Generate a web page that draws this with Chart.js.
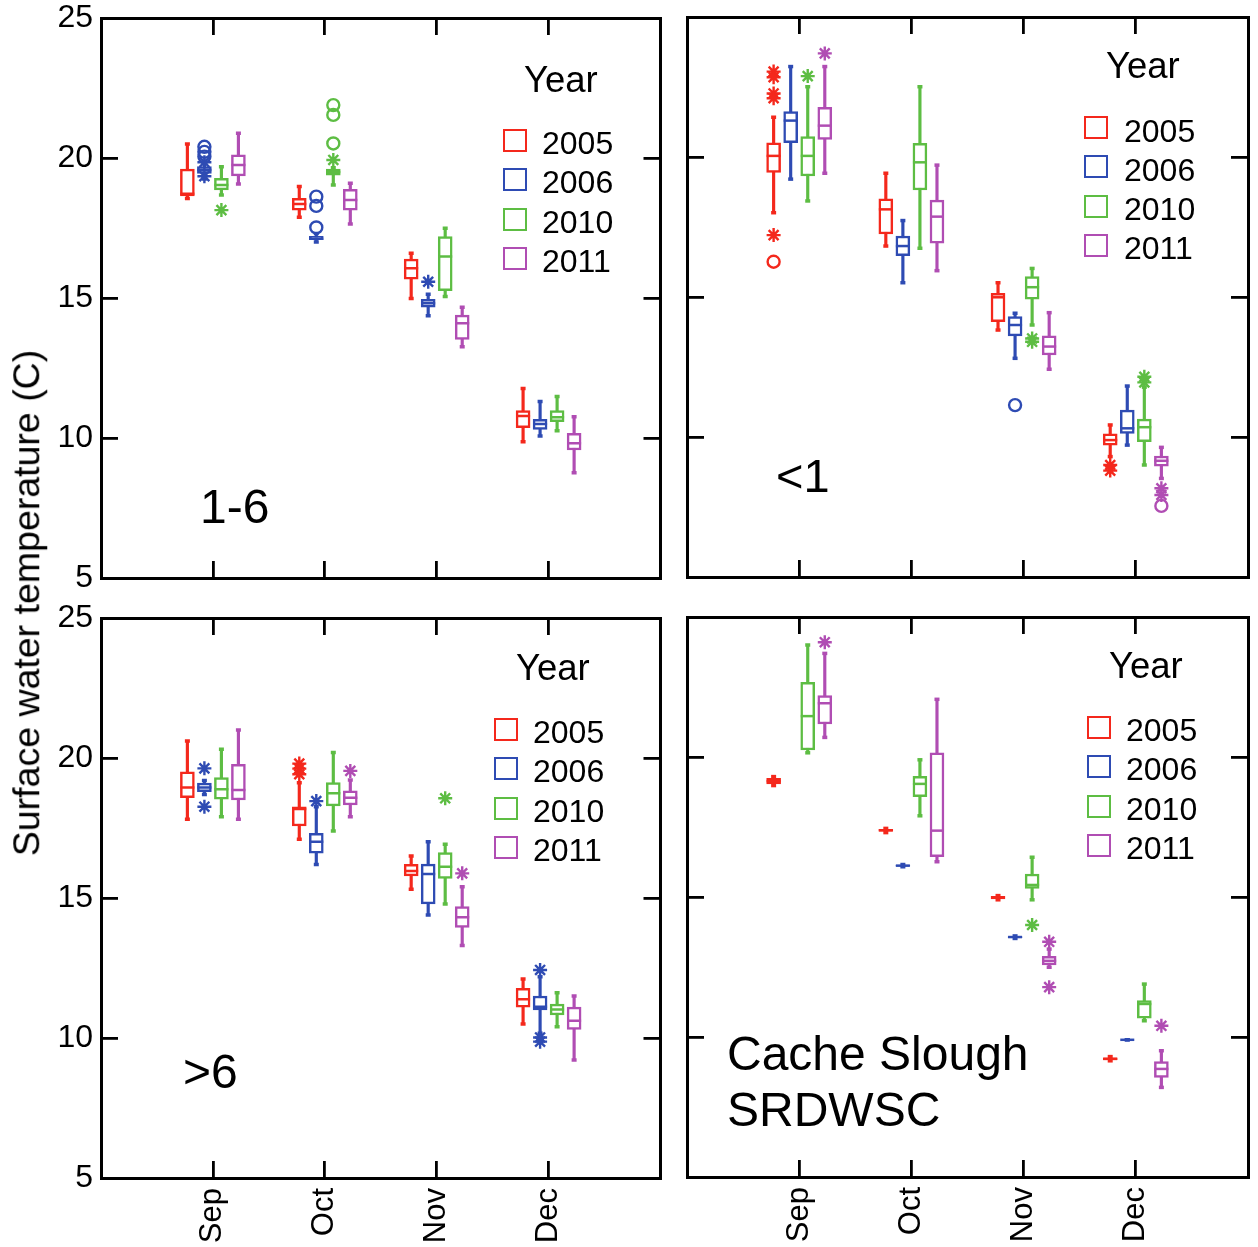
<!DOCTYPE html>
<html>
<head>
<meta charset="utf-8">
<title>Surface water temperature</title>
<script src="https://cdn.jsdelivr.net/npm/chart.js@4.4.1/dist/chart.umd.min.js"></script>
<style>
  html, body { margin: 0; padding: 0; background: #fff; }
  #page { position: relative; width: 1258px; height: 1247px; overflow: hidden; font-family: 'Liberation Sans', Arial, sans-serif; }
  canvas { position: absolute; }
  .txt { position: absolute; line-height: 1; white-space: nowrap; color: #000; }
  .key { position: absolute; width: 24px; height: 23px; box-sizing: border-box; border: 2.5px solid; }
</style>
</head>
<body>
<div id="page">
  <canvas id="p16" width="670" height="600" style="left:0;top:0"></canvas>
  <canvas id="p1" width="588" height="600" style="left:670px;top:0"></canvas>
  <canvas id="p6" width="670" height="647" style="left:0;top:600px"></canvas>
  <canvas id="pcs" width="588" height="647" style="left:670px;top:600px"></canvas>
</div>
<script>
const months = ['Sep', 'Oct', 'Nov', 'Dec'];
const years = ['2005', '2006', '2010', '2011'];
const yearColors = ['#f4281c', '#2e4bb3', '#5dbd43', '#b04db3'];
const yearOffsets = [-0.228, -0.076, 0.076, 0.228];

// boxes: [min, q1, median, q3, max] for Sep, Oct, Nov, Dec
// outliers: [month, value], month 1 = Sep ... 4 = Dec

// panel 1-6
const box16_2005 = [[18.55, 18.65, 18.72, 19.6, 20.5], [17.88, 18.14, 18.36, 18.56, 18.98], [14.98, 15.67, 16.06, 16.39, 16.6], [9.87, 10.37, 10.79, 10.98, 11.77]];
const box16_2006 = [[19.25, 19.45, 19.57, 19.69, 19.8], [17.0, 17.08, 17.12, 17.2, 17.3], [14.37, 14.67, 14.81, 14.95, 15.13], [10.07, 10.31, 10.5, 10.67, 11.3]];
const box16_2010 = [[18.68, 18.86, 19.04, 19.27, 19.69], [19.04, 19.39, 19.5, 19.6, 19.65], [15.05, 15.26, 16.48, 17.19, 17.49], [10.26, 10.58, 10.74, 10.98, 11.48]];
const box16_2011 = [[19.07, 19.36, 19.75, 20.11, 20.88], [17.64, 18.14, 18.5, 18.88, 19.1], [13.26, 13.52, 14.1, 14.39, 14.67], [8.76, 9.57, 9.81, 10.17, 10.76]];
const star16_2005 = [];
const star16_2006 = [[1, 19.85], [1, 19.35], [3, 15.58]];
const star16_2010 = [[1, 18.14], [2, 19.93]];
const star16_2011 = [];
const ring16_2005 = [];
const ring16_2006 = [[1, 20.4], [1, 20.22], [1, 20.05], [2, 18.62], [2, 18.29], [2, 17.52]];
const ring16_2010 = [[2, 21.89], [2, 21.54], [2, 20.52]];
const ring16_2011 = [];

// panel <1
const box1_2005 = [[18.01, 19.45, 20.04, 20.51, 21.42], [16.82, 17.25, 18.13, 18.51, 19.42], [13.82, 14.12, 14.99, 15.13, 15.51], [9.3, 9.71, 9.89, 10.11, 10.43]];
const box1_2006 = [[19.21, 20.51, 21.3, 21.62, 23.23], [15.51, 16.48, 16.82, 17.18, 17.73], [12.81, 13.61, 14.0, 14.3, 14.42], [9.71, 10.13, 10.31, 10.96, 11.82]];
const box1_2010 = [[18.43, 19.32, 20.04, 20.73, 22.51], [16.74, 18.82, 19.81, 20.49, 22.51], [14.0, 14.92, 15.35, 15.73, 16.02], [9.0, 9.83, 10.35, 10.64, 11.78]];
const box1_2011 = [[19.42, 20.63, 21.12, 21.77, 23.23], [15.94, 16.92, 17.87, 18.46, 19.71], [12.42, 12.93, 13.23, 13.61, 14.44], [8.52, 8.96, 9.15, 9.32, 9.63]];
const star1_2005 = [[1, 23.05], [1, 22.85], [1, 22.27], [1, 22.1], [1, 17.21], [4, 9.0], [4, 8.8]];
const star1_2006 = [];
const star1_2010 = [[1, 22.89], [3, 13.52], [3, 13.4], [4, 12.15], [4, 11.95]];
const star1_2011 = [[1, 23.7], [4, 8.17], [4, 7.93]];
const ring1_2005 = [[1, 16.26]];
const ring1_2006 = [[3, 11.14]];
const ring1_2010 = [];
const ring1_2011 = [[4, 7.54]];

// panel >6
const box6_2005 = [[17.81, 18.58, 18.95, 19.51, 20.61], [17.1, 17.57, 18.18, 18.26, 19.12], [15.31, 15.79, 15.96, 16.2, 16.5], [10.5, 11.1, 11.38, 11.77, 12.11]];
const box6_2006 = [[18.7, 18.8, 18.95, 19.1, 19.2], [16.2, 16.6, 17.01, 17.31, 18.26], [14.39, 14.79, 15.86, 16.21, 17.01], [10.17, 11.0, 11.12, 11.5, 12.19]];
const box6_2010 = [[17.9, 18.53, 18.88, 19.3, 20.31], [17.39, 18.29, 18.74, 19.12, 20.2], [14.79, 15.7, 16.12, 16.62, 16.92], [10.4, 10.82, 11.02, 11.21, 11.62]];
const box6_2011 = [[17.81, 18.5, 18.86, 19.77, 21.0], [17.9, 18.32, 18.58, 18.83, 19.21], [13.3, 13.95, 14.31, 14.69, 15.4], [9.21, 10.31, 10.62, 11.1, 11.5]];
const star6_2005 = [[2, 19.8], [2, 19.62], [2, 19.42]];
const star6_2006 = [[1, 19.63], [1, 18.26], [2, 18.46], [4, 12.43], [4, 10.02], [4, 9.87]];
const star6_2010 = [[3, 18.56]];
const star6_2011 = [[2, 19.54], [3, 15.88]];
const ring6_2005 = [];
const ring6_2006 = [];
const ring6_2010 = [];
const ring6_2011 = [];

// panel Cache Slough SRDWSC (no 2006 data in Sep)
const boxCS_2005 = [[18.98, 19.04, 19.14, 19.24, 19.3], [17.3, 17.35, 17.38, 17.42, 17.45], [14.9, 14.93, 14.98, 15.02, 15.05], [9.15, 9.18, 9.22, 9.26, 9.3]];
const boxCS_2006 = [null, [16.08, 16.1, 16.12, 16.14, 16.16], [13.52, 13.55, 13.57, 13.59, 13.61], [9.9, 9.9, 9.9, 9.9, 9.9]];
const boxCS_2010 = [[20.15, 20.25, 21.46, 22.67, 24.0], [17.9, 18.58, 19.04, 19.31, 19.9], [14.9, 15.31, 15.43, 15.82, 16.42], [10.58, 10.67, 11.18, 11.3, 11.89]];
const boxCS_2011 = [[20.7, 21.18, 21.92, 22.19, 23.7], [16.26, 16.44, 17.37, 20.15, 22.06], [12.49, 12.57, 12.72, 12.88, 13.14], [8.2, 8.56, 8.86, 9.12, 9.51]];
const starCS_2005 = [];
const starCS_2006 = [];
const starCS_2010 = [[3, 14.0]];
const starCS_2011 = [[1, 24.1], [3, 13.4], [3, 11.78], [4, 10.4]];
const ringCS = [[], [], [], []];

const yTicks = [5, 10, 15, 20, 25];
const fontFamily = "'Liberation Sans', Arial, sans-serif";
Chart.defaults.font.family = fontFamily;

function boxPoints(rows, i, pick) {
  return rows.map((b, m) => (b ? { x: m + 1 + yearOffsets[i], y: pick(b) } : null)).filter(Boolean);
}

function outlierPoints(rows, i) {
  return rows.map(([m, v]) => ({ x: m + yearOffsets[i], y: v }));
}

function datasetsFor(boxes, stars, rings) {
  const sets = [];
  years.forEach((year, i) => {
    const c = yearColors[i];
    const bar = { type: 'bar', grouped: false, categoryPercentage: 1, barPercentage: 1 };
    sets.push({ ...bar, label: year + ' whisker', data: boxPoints(boxes[i], i, b => [b[0], b[4]]),
      backgroundColor: c, borderWidth: 0, barThickness: 2.5, order: 5 });
    sets.push({ ...bar, label: year, data: boxPoints(boxes[i], i, b => [b[1], b[3]]),
      backgroundColor: '#fff', borderColor: c, borderWidth: 2.5, borderSkipped: false, barThickness: 14, order: 4 });
    sets.push({ type: 'scatter', label: year + ' median', data: boxPoints(boxes[i], i, b => b[2]),
      pointStyle: 'line', pointRadius: 7, pointBorderWidth: 2.5, pointBorderColor: c, order: 3 });
    sets.push({ type: 'scatter', label: year + ' caps',
      data: [...boxPoints(boxes[i], i, b => b[0]), ...boxPoints(boxes[i], i, b => b[4])],
      pointStyle: 'line', pointRadius: 2.5, pointBorderWidth: 3.5, pointBorderColor: c, order: 3 });
    sets.push({ type: 'scatter', label: year + ' far', data: outlierPoints(stars[i], i),
      pointStyle: 'star', pointRadius: 7, pointBorderWidth: 2.4, pointBorderColor: c, order: 1 });
    sets.push({ type: 'scatter', label: year + ' out', data: outlierPoints(rings[i], i),
      pointStyle: 'circle', pointRadius: 6, pointBorderWidth: 2.4, pointBorderColor: c,
      pointBackgroundColor: 'rgba(255,255,255,0)', order: 1 });
  });
  return sets;
}

function frameGrid() {
  return { drawOnChartArea: false, drawTicks: true, tickLength: -17, lineWidth: 2.8, color: '#000', offset: false };
}
const frameBorder = { display: true, color: '#000', width: 3 };
const monthTicks = s => { s.ticks = [1, 2, 3, 4].map(v => ({ value: v })); };
// the frame sits exactly where the layout padding puts it: drop label overhang
function noOverhang(s) {
  s.paddingTop = 0; s.paddingBottom = 0; s.paddingLeft = 0; s.paddingRight = 0;
}

function makePanel(id, boxes, stars, rings, { leftWidth, showY, showX, padding }) {
  return new Chart(document.getElementById(id), {
    type: 'bar',
    data: { datasets: datasetsFor(boxes, stars, rings) },
    options: {
      responsive: false,
      animation: false,
      events: [],
      layout: { padding },
      plugins: { legend: { display: false }, tooltip: { enabled: false } },
      scales: {
        x: {
          type: 'linear', position: 'bottom', min: 0, max: 5, offset: false,
          afterBuildTicks: monthTicks,
          ticks: { display: showX, callback: v => months[v - 1], minRotation: 90, maxRotation: 90,
            autoSkip: false, padding: 27, color: '#000', font: { size: 31 } },
          grid: frameGrid(), border: frameBorder,
          // labels are clipped to the axis box, so it runs to the canvas bottom
          afterFit: s => { s.height = showX ? 69 : 0; noOverhang(s); },
        },
        xTop: {
          type: 'linear', position: 'top', min: 0, max: 5, offset: false,
          afterBuildTicks: monthTicks,
          ticks: { display: false },
          grid: frameGrid(), border: frameBorder,
          afterFit: s => { s.height = 0; noOverhang(s); },
        },
        y: {
          type: 'linear', position: 'left', min: 5, max: 25, stacked: false,
          afterBuildTicks: s => { s.ticks = yTicks.map(v => ({ value: v })); },
          ticks: { display: showY, padding: 25, color: '#000', font: { size: 32 } },
          grid: frameGrid(), border: frameBorder,
          afterFit: s => { s.width = leftWidth; noOverhang(s); },
        },
        yRight: {
          type: 'linear', position: 'right', min: 5, max: 25,
          afterBuildTicks: s => { s.ticks = yTicks.map(v => ({ value: v })); },
          ticks: { display: false },
          grid: frameGrid(), border: frameBorder,
          afterFit: s => { s.width = 0; noOverhang(s); },
        },
      },
    },
  });
}

makePanel('p16', [box16_2005, box16_2006, box16_2010, box16_2011], [star16_2005, star16_2006, star16_2010, star16_2011],
  [ring16_2005, ring16_2006, ring16_2010, ring16_2011],
  { leftWidth: 101, showY: true, showX: false, padding: { top: 18, right: 9, bottom: 22, left: 0 } });
makePanel('p1', [box1_2005, box1_2006, box1_2010, box1_2011], [star1_2005, star1_2006, star1_2010, star1_2011],
  [ring1_2005, ring1_2006, ring1_2010, ring1_2011],
  { leftWidth: 17, showY: false, showX: false, padding: { top: 17, right: 10, bottom: 23, left: 0 } });
makePanel('p6', [box6_2005, box6_2006, box6_2010, box6_2011], [star6_2005, star6_2006, star6_2010, star6_2011],
  [ring6_2005, ring6_2006, ring6_2010, ring6_2011],
  { leftWidth: 101, showY: true, showX: true, padding: { top: 18, right: 9, bottom: 0, left: 0 } });
makePanel('pcs', [boxCS_2005, boxCS_2006, boxCS_2010, boxCS_2011], [starCS_2005, starCS_2006, starCS_2010, starCS_2011],
  ringCS,
  { leftWidth: 17, showY: false, showX: true, padding: { top: 17, right: 10, bottom: 1, left: 0 } });

// text overlays
const page = document.getElementById('page');
function addText(text, left, mid, size) {
  const el = document.createElement('div');
  el.className = 'txt';
  el.textContent = text;
  el.style.left = left + 'px';
  el.style.top = (mid - 0.49 * size) + 'px';
  el.style.fontSize = size + 'px';
  page.appendChild(el);
  return el;
}

function addLegend(yearLeft, yearMid, keyLeft, textLeft, rowMids) {
  addText('Year', yearLeft, yearMid, 36.5);
  years.forEach((year, i) => {
    const key = document.createElement('div');
    key.className = 'key';
    key.style.borderColor = yearColors[i];
    key.style.left = keyLeft + 'px';
    key.style.top = (rowMids[i] - 3 - 11.5) + 'px';
    page.appendChild(key);
    addText(year, textLeft, rowMids[i], 32);
  });
}

addLegend(524, 80, 503, 542, [143, 182, 222, 261]);
addLegend(1106, 66, 1084, 1124, [130.5, 169.5, 209, 248]);
addLegend(516, 668, 494, 533, [732, 771, 811, 850]);
addLegend(1109, 666, 1087, 1126, [730, 769, 809, 848]);

addText('1-6', 200, 507, 48);
addText('<1', 776, 475, 47);
addText('>6', 183, 1072, 48);
addText('Cache Slough', 727, 1054, 48);
addText('SRDWSC', 727, 1110, 48);

const title = addText('Surface water temperature (C)', 0, 0, 37.5);
title.style.left = '27px';
title.style.top = '603px';
title.style.transform = 'translate(-50%, -50%) rotate(-90deg)';
</script>
</body>
</html>
